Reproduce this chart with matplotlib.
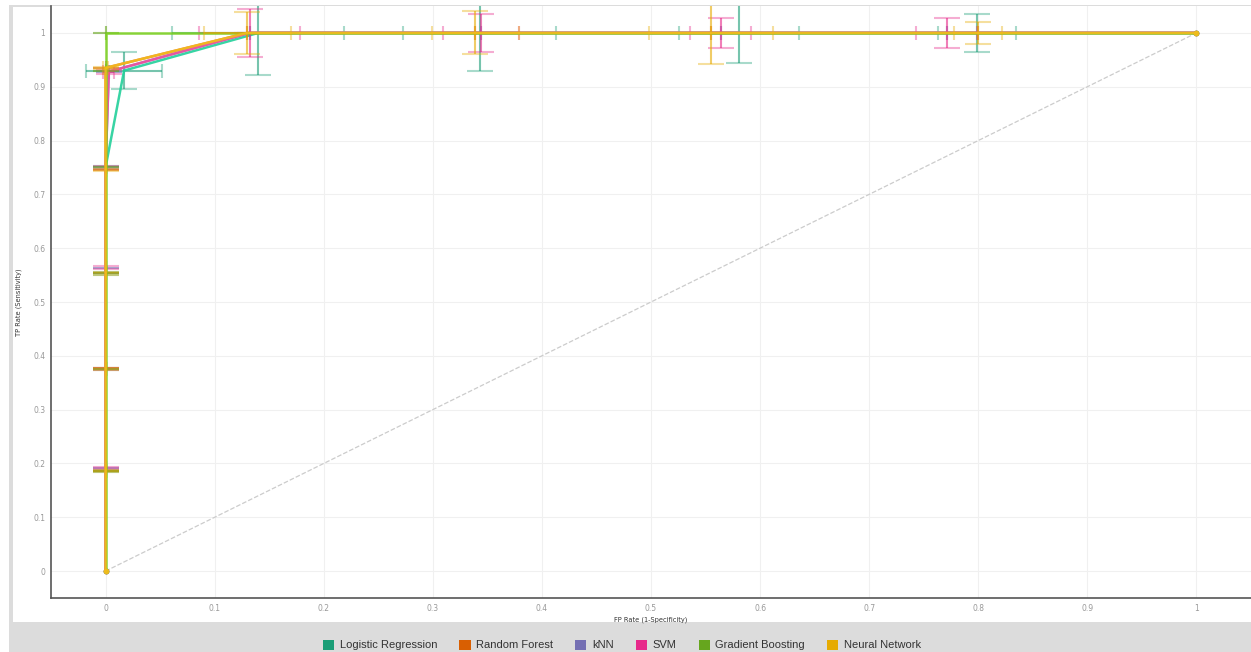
import numpy as np
import matplotlib as mpl
mpl.use('Agg')
import matplotlib.pyplot as plt
from matplotlib.patches import Rectangle, Patch

# ROC points (fpr, tpr) per classifier, with x / y error half widths
names = ['Logistic Regression', 'Random Forest', 'kNN', 'SVM',
         'Gradient Boosting', 'Neural Network']
colors = ['#1b9e77', '#d95f02', '#7570b3', '#e7298a', '#66a61e', '#e6ab02']
line_colors = ['#22d09a', '#e8772a', '#8a85c8', '#f0509e', '#7ccf24', '#f2bb1c']

lr_fpr = [0, 0, 0, 0, 0, 0.017, 0.140, 0.343, 0.581, 0.799, 1]
lr_tpr = [0, 0.186, 0.375, 0.553, 0.750, 0.930, 1, 1, 1, 1, 1]
lr_fpr_err = [0, 0, 0, 0, 0, 0.035, 0.079, 0.070, 0.055, 0.036, 0]
lr_tpr_err = [0, 0.002, 0.002, 0.002, 0.002, 0.034, 0.078, 0.070, 0.055, 0.035, 0]

rf_fpr = [0, 0, 0, 0, 0, 0, 0.130, 0.339, 0.555, 0.800, 1]
rf_tpr = [0, 0.186, 0.377, 0.553, 0.746, 0.935, 1, 1, 1, 1, 1]
rf_fpr_err = [0, 0, 0, 0, 0, 0, 0, 0, 0, 0, 0]
rf_tpr_err = [0, 0, 0, 0, 0, 0, 0, 0, 0, 0, 0]

knn_fpr = [0, 0, 0, 0, 0, 0.003, 0.132, 0.344, 0.564, 0.771, 1]
knn_tpr = [0, 0.191, 0.375, 0.564, 0.750, 0.928, 1, 1, 1, 1, 1]
knn_fpr_err = [0, 0, 0, 0, 0, 0, 0, 0, 0, 0, 0]
knn_tpr_err = [0, 0, 0, 0, 0, 0, 0, 0, 0, 0, 0]

svm_fpr = [0, 0, 0, 0, 0, 0.003, 0.132, 0.344, 0.564, 0.771, 1]
svm_tpr = [0, 0.191, 0.375, 0.564, 0.750, 0.928, 1, 1, 1, 1, 1]
svm_fpr_err = [0, 0, 0, 0, 0, 0.005, 0.046, 0.035, 0.028, 0.028, 0]
svm_tpr_err = [0, 0.002, 0.002, 0.002, 0.002, 0.004, 0.045, 0.035, 0.028, 0.028, 0]

gb_fpr = [0, 0, 0, 0, 0, 0, 0, 1]
gb_tpr = [0, 0.186, 0.375, 0.553, 0.750, 0.930, 1, 1]
gb_fpr_err = [0, 0, 0, 0, 0, 0, 0, 0]
gb_tpr_err = [0, 0, 0, 0, 0, 0, 0, 0]

nn_fpr = [0, 0, 0, 0, 0, 0, 0.130, 0.339, 0.555, 0.800, 1]
nn_tpr = [0, 0.186, 0.375, 0.553, 0.746, 0.935, 1, 1, 1, 1, 1]
nn_fpr_err = [0, 0, 0, 0, 0, 0.002, 0.040, 0.040, 0.057, 0.022, 0]
nn_tpr_err = [0, 0.002, 0.002, 0.002, 0.002, 0.002, 0.039, 0.040, 0.058, 0.020, 0]

curves = [
    (lr_fpr, lr_tpr, lr_fpr_err, lr_tpr_err),
    (rf_fpr, rf_tpr, rf_fpr_err, rf_tpr_err),
    (knn_fpr, knn_tpr, knn_fpr_err, knn_tpr_err),
    (svm_fpr, svm_tpr, svm_fpr_err, svm_tpr_err),
    (gb_fpr, gb_tpr, gb_fpr_err, gb_tpr_err),
    (nn_fpr, nn_tpr, nn_fpr_err, nn_tpr_err),
]

ticks = np.round(np.arange(0, 1.01, 0.1), 1)
tick_labels = ['0', '0.1', '0.2', '0.3', '0.4', '0.5', '0.6', '0.7', '0.8', '0.9', '1']

W, H = 1251, 652
fig = plt.figure(figsize=(W / 100, H / 100), dpi=100)
fig.patch.set_facecolor('white')

# grey frame + white panel
fig.patches.append(Rectangle((9 / W, 0), 1 - 9 / W, (H - 5) / H,
                             transform=fig.transFigure, facecolor='#dcdcdc',
                             edgecolor='none', zorder=-10))
fig.patches.append(Rectangle((13 / W, (H - 622) / H), 1 - 13 / W, (622 - 7) / H,
                             transform=fig.transFigure, facecolor='white',
                             edgecolor='none', zorder=-9))

ax = fig.add_axes([51 / W, 1 - 598 / H, (W - 51) / W, (598 - 6) / H])
ax.set_facecolor('white')
ax.set_xlim(-0.05, 1.05)
ax.set_ylim(-0.05, 1.05)

ax.plot([0, 1], [0, 1], ls='--', color='#cccccc', lw=0.9, zorder=1)


def draw_errbar(ax, x, y, color, z, xerr=None, yerr=None, capsize=5):
    eb = ax.errorbar(x, y, xerr=xerr, yerr=yerr, fmt='none', ecolor=color,
                     elinewidth=1.5, capsize=capsize, capthick=1.5, zorder=z)
    _, caps, bars = eb.lines
    for c in caps:
        c.set_alpha(0.38)
    for b in bars:
        b.set_alpha(0.6)


for i, (fpr, tpr, fe, te) in enumerate(curves):
    fpr = np.array(fpr)
    tpr = np.array(tpr)
    fe = np.array(fe)
    te = np.array(te)
    mid = slice(1, len(fpr) - 1)
    draw_errbar(ax, fpr[mid], tpr[mid], colors[i], 2 + i, yerr=te[mid], capsize=9.7)
    draw_errbar(ax, fpr[mid], tpr[mid], colors[i], 2 + i, xerr=fe[mid], capsize=5)
    ax.plot(fpr, tpr, color=line_colors[i], lw=1.8, alpha=0.9, zorder=3 + i,
            marker='o', ms=3, markevery=[0, len(fpr) - 1], solid_joinstyle='round')

ax.set_xticks(ticks)
ax.set_xticklabels(tick_labels)
ax.set_yticks(ticks)
ax.set_yticklabels(tick_labels)
ax.tick_params(length=0, labelsize=5.5, labelcolor='#999999', pad=4)
ax.grid(color='#f0f0f0', lw=0.8)
ax.set_axisbelow(True)

for side in ['top', 'right']:
    ax.spines[side].set_visible(False)
for side in ['left', 'bottom']:
    ax.spines[side].set_color('#555555')
    ax.spines[side].set_linewidth(1.2)

ax.set_xlabel('FP Rate (1-Specificity)', fontsize=4.8, color='#333333', labelpad=3)
ax.set_ylabel('TP Rate (Sensitivity)', fontsize=4.8, color='#333333', labelpad=8)

handles = [Patch(facecolor=c, edgecolor='none') for c in colors]
fig.legend(handles, names, loc='center', bbox_to_anchor=(622 / W, 7 / H),
           ncol=6, frameon=False, prop={'family': 'Liberation Sans', 'size': 8},
           handlelength=1.0, handleheight=1.0, handletextpad=0.5,
           columnspacing=2.0, labelcolor='#333333')

plt.savefig('out.png', dpi=100)
